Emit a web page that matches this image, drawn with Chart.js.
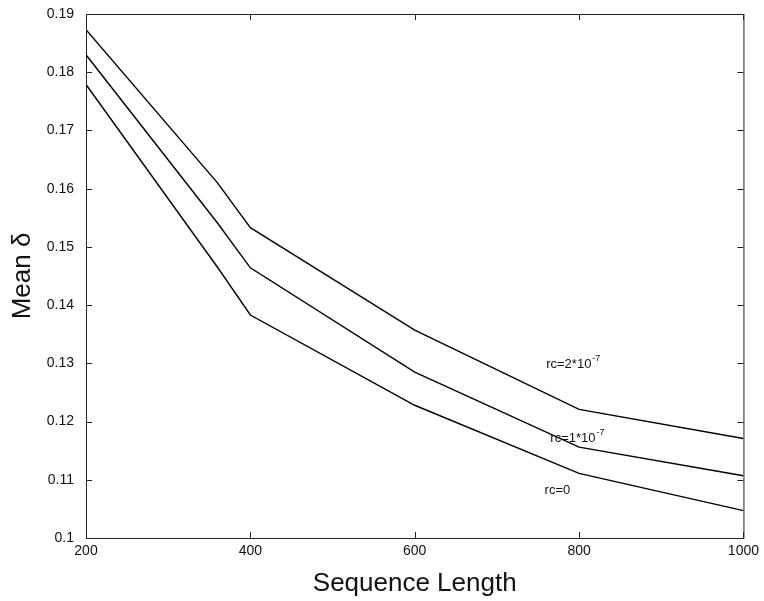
<html>
<head>
<title>Mean delta vs sequence length</title>
<style>
  body { margin: 0; background: #fff; }
  .chart-container { position: relative; width: 764px; height: 601px; }
</style>
<script src="https://cdn.jsdelivr.net/npm/chart.js"></script>
</head>
<body>
<div class="chart-container"><canvas id="deltaChart" width="764" height="601"></canvas></div>
<script>
  // values
  const seqLength = [200, 360, 400, 600, 800, 1000];
  const rcTwo = [0.1873, 0.1610, 0.1533, 0.1357, 0.1221, 0.1171];
  const rcOne = [0.1830, 0.1541, 0.1464, 0.1285, 0.1156, 0.1107];
  const rcZero = [0.1779, 0.1465, 0.1383, 0.1228, 0.1111, 0.1047];

  const xTicks = [200, 400, 600, 800, 1000];
  const yTicks = [0.1, 0.11, 0.12, 0.13, 0.14, 0.15, 0.16, 0.17, 0.18, 0.19];
  const curveNames = ["rc=2*10", "rc=1*10", "rc=0"];
  const curveExp = ["-7", "-7", ""];

  const FONT = "'Liberation Sans', Arial, Helvetica, sans-serif";

  function toPoints(vals) {
    return seqLength.map((v, i) => ({ x: v, y: vals[i] }));
  }

  // box, inward ticks and curve labels like the matlab figure
  const boxPlugin = {
    id: "box",
    afterDraw(chart) {
      const ctx = chart.ctx;
      const a = chart.chartArea;
      const xs = chart.scales.x, ys = chart.scales.y;
      ctx.save();
      ctx.strokeStyle = "#222";
      ctx.lineWidth = 1;
      ctx.strokeRect(a.left + 0.5, a.top + 0.5, a.right - a.left, a.bottom - a.top);
      ctx.beginPath();
      xs.ticks.forEach(t => {
        const px = Math.round(xs.getPixelForValue(t.value)) + 0.5;
        ctx.moveTo(px, a.bottom); ctx.lineTo(px, a.bottom - 6);
        ctx.moveTo(px, a.top); ctx.lineTo(px, a.top + 6);
      });
      ys.ticks.forEach(t => {
        const py = Math.round(ys.getPixelForValue(t.value)) + 0.5;
        ctx.moveTo(a.left, py); ctx.lineTo(a.left + 6, py);
        ctx.moveTo(a.right, py); ctx.lineTo(a.right - 6, py);
      });
      ctx.stroke();

      // label anchors in data units
      const spots = [[760, 0.1292], [765, 0.1165], [758, 0.1076]];
      ctx.fillStyle = "#111";
      ctx.textBaseline = "alphabetic";
      curveNames.forEach((name, i) => {
        const px = xs.getPixelForValue(spots[i][0]);
        const py = ys.getPixelForValue(spots[i][1]);
        ctx.font = "13px " + FONT;
        ctx.fillText(name, px, py);
        if (curveExp[i]) {
          const w = ctx.measureText(name).width;
          ctx.font = "9px " + FONT;
          ctx.fillText(curveExp[i], px + w + 1, py - 7);
        }
      });
      ctx.restore();
    }
  };

  const lineStyle = { borderColor: "#000", borderWidth: 1.4, pointRadius: 0, tension: 0, fill: false };

  new Chart(document.getElementById("deltaChart"), {
    type: "line",
    data: {
      datasets: [
        Object.assign({ label: "rc=2e-7", data: toPoints(rcTwo) }, lineStyle),
        Object.assign({ label: "rc=1e-7", data: toPoints(rcOne) }, lineStyle),
        Object.assign({ label: "rc=0", data: toPoints(rcZero) }, lineStyle)
      ]
    },
    options: {
      responsive: false,
      animation: false,
      layout: { padding: { top: 14, right: 16, left: 0, bottom: 0 } },
      plugins: { legend: { display: false }, tooltip: { enabled: false } },
      scales: {
        x: {
          type: "linear",
          min: 200,
          max: 1000,
          afterFit: s => { s.height = 63; },
          afterBuildTicks: s => { s.ticks = xTicks.map(v => ({ value: v })); },
          grid: { display: false, drawTicks: false },
          border: { display: false },
          ticks: { padding: 5, color: "#111", font: { family: FONT, size: 14 }, maxRotation: 0, autoSkip: false, callback: v => String(v) },
          title: { display: true, text: "Sequence Length", color: "#111", font: { family: FONT, size: 26 }, padding: { top: 0, bottom: 2 } }
        },
        y: {
          type: "linear",
          min: 0.1,
          max: 0.19,
          afterFit: s => { s.width = 86; },
          afterBuildTicks: s => { s.ticks = yTicks.map(v => ({ value: v })); },
          grid: { display: false },
          border: { display: false },
          ticks: {
            padding: 4,
            autoSkip: false,
            color: "#111",
            font: { family: FONT, size: 14 },
            callback: v => String(+v.toFixed(2))
          },
          title: { display: true, text: "Mean δ", color: "#111", font: { family: FONT, size: 26 }, padding: { top: 7, bottom: 0 } }
        }
      }
    },
    plugins: [boxPlugin]
  });
</script>
</body>
</html>
